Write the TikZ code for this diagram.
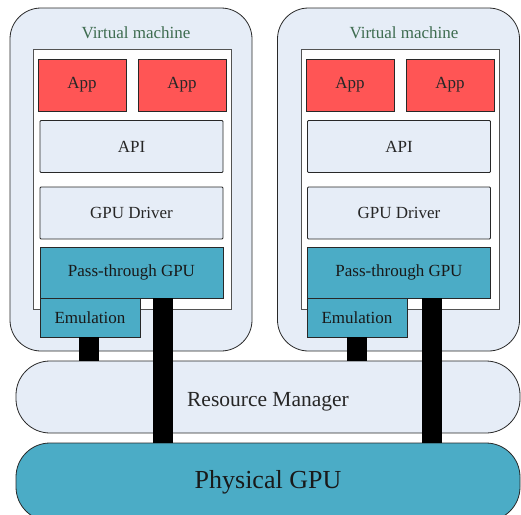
\documentclass[tikz,border=0pt]{standalone}
\usepackage{fontspec}
\setmainfont{Liberation Serif}
\definecolor{lightbg}{RGB}{230,237,247}
\definecolor{appred}{RGB}{255,85,85}
\definecolor{teal}{RGB}{75,172,198}
\definecolor{vmgreen}{RGB}{62,108,80}
\definecolor{edge}{RGB}{40,40,40}
\begin{document}
\begin{tikzpicture}[x=1pt,y=-1pt,
  vmbox/.style={draw=edge, line width=0.8pt, fill=lightbg, rounded corners=31pt, minimum width=242pt, minimum height=343pt, inner sep=0pt},
  innerbox/.style={draw=edge!80, line width=0.8pt, fill=white, minimum width=198pt, minimum height=260pt, inner sep=0pt},
  appbox/.style={draw=edge, line width=0.8pt, fill=appred, minimum width=88pt, minimum height=52pt, inner sep=0pt, font=\fontsize{17}{20}\selectfont, text=black!85},
  layerbox/.style={draw=edge, line width=0.8pt, fill=lightbg, rounded corners=1pt, minimum width=183pt, minimum height=52pt, inner sep=0pt, font=\fontsize{17}{20}\selectfont, text=black!85},
  tealbox/.style={draw=edge, line width=0.8pt, fill=teal, minimum height=51pt, inner sep=0pt, font=\fontsize{17}{20}\selectfont, text=black!90},
  vmtitle/.style={text=vmgreen, font=\fontsize{17}{20}\selectfont, inner sep=0pt},
  pill/.style={draw=edge, line width=0.8pt, rounded corners=34pt, minimum width=504pt, inner sep=0pt},
  bar/.style={line width=20pt, black, line cap=butt}
]
\useasboundingbox (0,0) rectangle (521,514);

% ---------- Left VM ----------
\node[vmbox] (vmA) at (131,179.5) {};
\node[vmtitle] (vmAt) at (136,33) {Virtual machine};
\node[innerbox] (inA) at (132,179) {};
\node[appbox] (appA1) at (82,85) {App};
\node[appbox] (appA2) at (182,85) {App};
\node[layerbox] (apiA) at (131.5,146.5) {API};
\node[layerbox] (drvA) at (131.5,213) {GPU Driver};
\node[tealbox, minimum width=183pt] (ptA) at (131.5,272.5) {Pass-through GPU};
\node[tealbox, minimum width=100pt, minimum height=39pt] (emA) at (90,317.5) {Emulation};

% ---------- Right VM ----------
\node[vmbox] (vmB) at (398.5,179.5) {};
\node[vmtitle] (vmBt) at (404,33) {Virtual machine};
\node[innerbox] (inB) at (400,179) {};
\node[appbox] (appB1) at (350,85) {App};
\node[appbox] (appB2) at (450,85) {App};
\node[layerbox] (apiB) at (399,146.5) {API};
\node[layerbox] (drvB) at (399,213) {GPU Driver};
\node[tealbox, minimum width=183pt] (ptB) at (399,272.5) {Pass-through GPU};
\node[tealbox, minimum width=100pt, minimum height=39pt] (emB) at (357,317.5) {Emulation};

% ---------- Host ----------
\node[pill, fill=lightbg, minimum height=72pt, text height=22.8pt, font=\fontsize{21.5}{24}\selectfont, text=black!85] (rm) at (268,397) {Resource Manager};
\node[pill, fill=teal, minimum height=78pt] (gpu) at (268,482) {};
\node[font=\fontsize{26}{30}\selectfont, text=black!90, inner sep=0pt] (gput) at (268,482) {Physical GPU};

% ---------- Connectors ----------
\draw[bar] ([xshift=-1pt]emA.south) -- ([xshift=-1pt]emA.south |- rm.north);
\draw[bar] ([xshift=31.5pt]ptA.south) -- ([xshift=31.5pt]ptA.south |- gpu.north);
\draw[bar] ([xshift=-0.5pt]emB.south) -- ([xshift=-0.5pt]emB.south |- rm.north);
\draw[bar] ([xshift=32.5pt]ptB.south) -- ([xshift=32.5pt]ptB.south |- gpu.north);
\end{tikzpicture}
\end{document}
